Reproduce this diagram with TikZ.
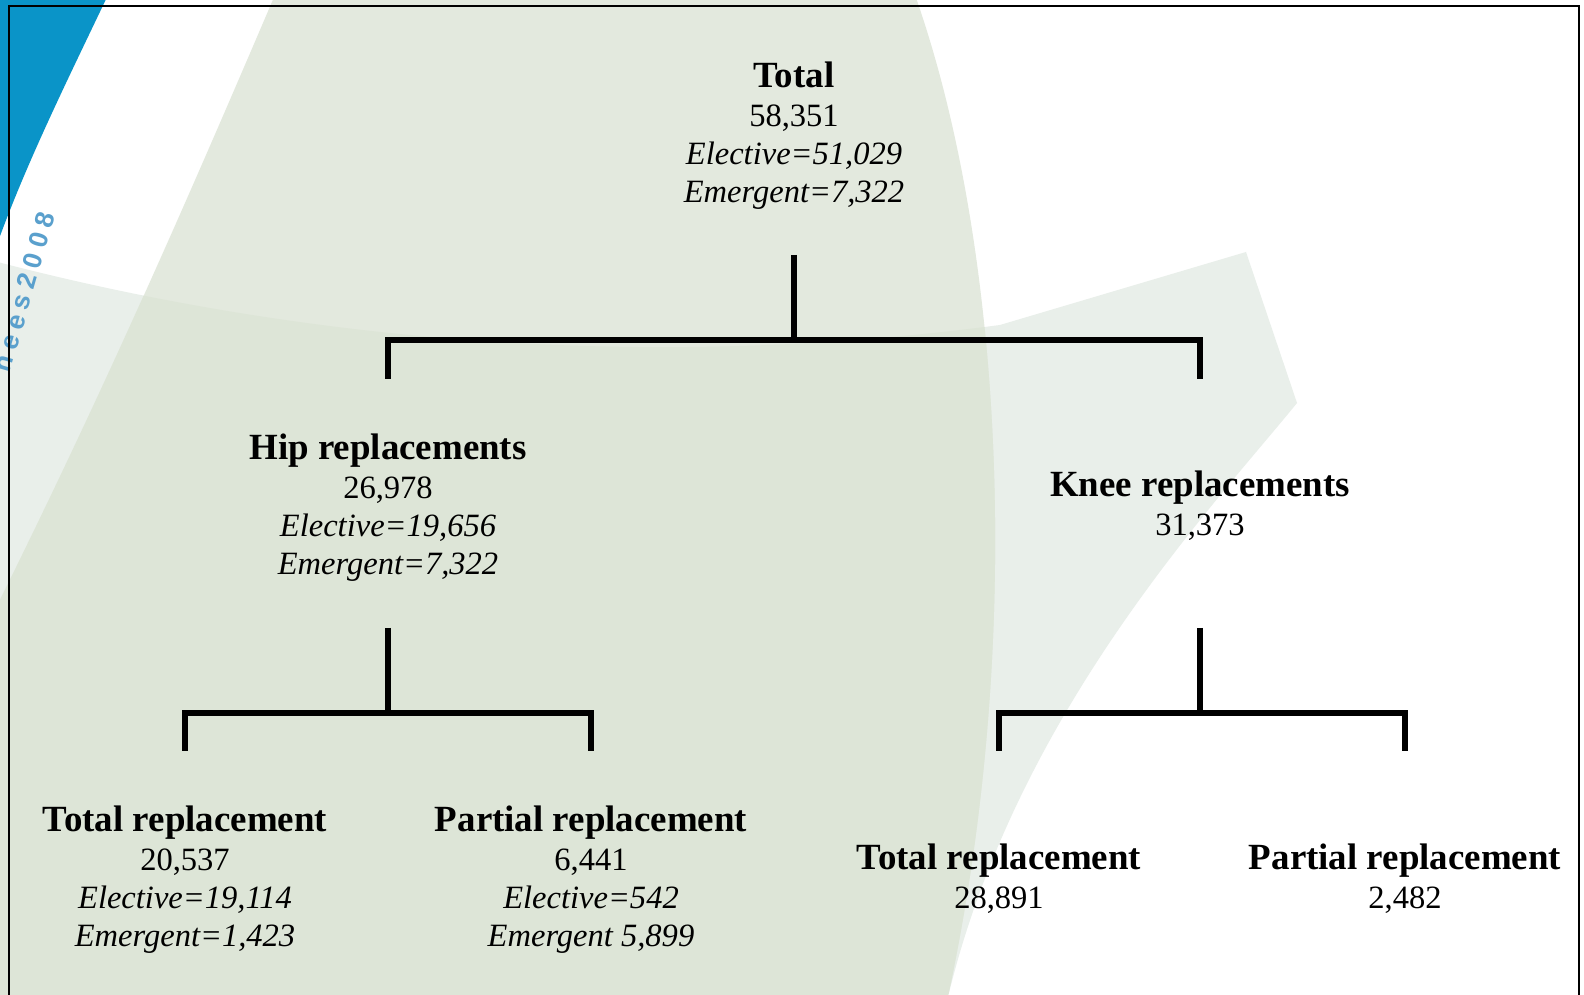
\documentclass[tikz,border=0pt]{standalone}
\usepackage{fontspec}
\setmainfont{Liberation Serif}
\newfontfamily\wmfont[LetterSpace=25]{Liberation Sans}
\definecolor{wmblue}{RGB}{10,148,200}
\definecolor{lensc}{RGB}{227,233,222}
\definecolor{swc}{RGB}{233,239,234}
\definecolor{ovc}{RGB}{221,229,215}
\definecolor{wmtext}{RGB}{90,160,205}
\newcommand\hdr{\fontsize{10.5}{10.9}\selectfont\bfseries}
\begin{document}
\begin{tikzpicture}[x=0.01cm,y=-0.01cm,
  blk/.style={inner sep=0pt, anchor=base, font=\fontsize{9.25}{10.9}\selectfont},
  conn/.style={line width=0.06cm, line join=miter},
  framel/.style={line width=0.02cm}]
\useasboundingbox (0,0) rectangle (1584,995);
\begin{scope}
\clip (0,0) rectangle (1584,995);
\fill[white] (0,0) rectangle (1584,995);
% swoosh
\def\swpath{(-10,260) .. controls (350,355) and (700,365) .. (1000,325) -- (1246,252) -- (1297,403) .. controls (1210,510) and (1010,720) .. (945,1010) -- (-10,1010) -- cycle}
\def\lenspath{(275,-5) .. controls (200,170) and (110,380) .. (-10,620) -- (-10,1010) -- (945,1010) .. controls (1025,650) and (1005,250) .. (915,-5) -- cycle}
\fill[swc] \swpath;
\fill[lensc] \lenspath;
\begin{scope}
\clip \swpath;
\fill[ovc] \lenspath;
\end{scope}
\fill[wmblue] (-5,-5) -- (108,-5) .. controls (70,75) and (25,165) .. (-5,250) -- cycle;
\node[rotate=74, text=wmtext, inner sep=0pt] (wm) at (24,292)
  {\wmfont\bfseries\fontsize{7.5}{8}\selectfont nees2008};
\draw[framel] (9,1010) -- (9,6) -- (1579,6) -- (1579,1010);
\end{scope}

% nodes
\node[blk] (total) at (794,88) {\begin{tabular}[t]{@{}c@{}}{\hdr Total}\\58,351\\\textit{Elective=51,029}\\\textit{Emergent=7,322}\end{tabular}};
\node[blk] (hip) at (388,460) {\begin{tabular}[t]{@{}c@{}}{\hdr Hip replacements}\\26,978\\\textit{Elective=19,656}\\\textit{Emergent=7,322}\end{tabular}};
\node[blk] (knee) at (1200,497) {\begin{tabular}[t]{@{}c@{}}{\hdr Knee replacements}\\31,373\end{tabular}};
\node[blk] (htot) at (185,832) {\begin{tabular}[t]{@{}c@{}}{\hdr Total replacement}\\20,537\\\textit{Elective=19,114}\\\textit{Emergent=1,423}\end{tabular}};
\node[blk] (hpar) at (591,832) {\begin{tabular}[t]{@{}c@{}}{\hdr Partial replacement}\\6,441\\\textit{Elective=542}\\\textit{Emergent 5,899}\end{tabular}};
\node[blk] (ktot) at (999,870) {\begin{tabular}[t]{@{}c@{}}{\hdr Total replacement}\\28,891\end{tabular}};
\node[blk] (kpar) at (1405,870) {\begin{tabular}[t]{@{}c@{}}{\hdr Partial replacement}\\2,482\end{tabular}};

% connector points
\coordinate (tS) at (total.base |- 0,255);
\coordinate (tB) at (total.base |- 0,340);
\coordinate (hT) at (hip.base |- 0,379);
\coordinate (kT) at (knee.base |- 0,379);
\coordinate (hS) at (hip.base |- 0,628);
\coordinate (hB) at (hip.base |- 0,713);
\coordinate (htT) at (htot.base |- 0,751);
\coordinate (hpT) at (hpar.base |- 0,751);
\coordinate (kS) at (knee.base |- 0,628);
\coordinate (kB) at (knee.base |- 0,713);
\coordinate (ktT) at (ktot.base |- 0,751);
\coordinate (kpT) at (kpar.base |- 0,751);

\draw[conn] (tS) -- (tB);
\draw[conn] (hT) |- (tB) -| (kT);
\draw[conn] (hS) -- (hB);
\draw[conn] (htT) |- (hB) -| (hpT);
\draw[conn] (kS) -- (kB);
\draw[conn] (ktT) |- (kB) -| (kpT);
\end{tikzpicture}
\end{document}
